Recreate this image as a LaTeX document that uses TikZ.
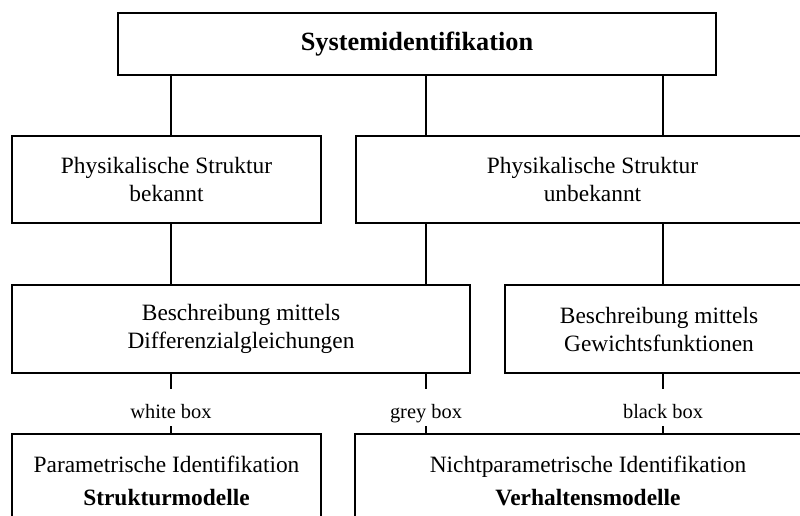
\documentclass[tikz,border=0pt]{standalone}
\usepackage{fontspec}
\setmainfont{Liberation Serif}
\newcommand\mybodyfont{\fontsize{23.4}{28}\selectfont}
\newcommand\mylabfont{\fontsize{20.4}{24}\selectfont}
\newcommand\mytitlefont{\fontsize{26.3}{30}\selectfont\bfseries}
\tikzset{
  box/.style={draw, line width=1.8pt, inner sep=0pt, align=center, font=\mybodyfont},
  conn/.style={line width=2.8pt},
  lab/.style={inner sep=0pt, minimum height=37pt, text height=25pt, text depth=4pt, font=\mylabfont},
}
\begin{document}
\begin{tikzpicture}[x=1pt,y=-1pt]
\useasboundingbox (0,0) rectangle (800,516);
\clip (0,0) rectangle (800,516);
\fill[white] (0,0) rectangle (800,516);
% boxes
\node[box, minimum width=598pt, minimum height=62pt, font=\mytitlefont] (top) at (417,44) {Systemidentifikation};
\node[box, minimum width=309pt, minimum height=87pt] (b2) at (166.5,179.5) {Physikalische Struktur\\bekannt};
\node[box, minimum width=473pt, minimum height=87pt] (b3) at (592.5,179.5) {Physikalische Struktur\\unbekannt};
\node[box, minimum width=458pt, minimum height=88pt] (b4) at (241,329) {Beschreibung mittels\\Differenzialgleichungen};
\node[box, minimum width=308pt, minimum height=88pt] (b5) at (659,329) {Beschreibung mittels\\Gewichtsfunktionen};
\node[box, minimum width=309pt, minimum height=94pt] (b6) at (166.5,481) {Parametrische Identifikation\\[5pt]\textbf{Strukturmodelle}};
\node[box, minimum width=466pt, minimum height=94pt] (b7) at (588,481) {Nichtparametrische Identifikation\\[5pt]\textbf{Verhaltensmodelle}};
% connector x positions
\coordinate (xa) at (171,0);
\coordinate (xb) at (426,0);
\coordinate (xc) at (663,0);
\draw[conn] (top.south -| xa) -- (b2.north -| xa);
\draw[conn] (top.south -| xb) -- (b3.north -| xb);
\draw[conn] (top.south -| xc) -- (b3.north -| xc);
\draw[conn] (b2.south -| xa) -- (b4.north -| xa);
\draw[conn] (b3.south -| xb) -- (b4.north -| xb);
\draw[conn] (b3.south -| xc) -- (b5.north -| xc);
% labels
\node[lab] (la) at (171,407.5) {white box};
\node[lab] (lb) at (426,407.5) {grey box};
\node[lab] (lc) at (663,407.5) {black box};
\draw[conn] (b4.south -| xa) -- (la.north);
\draw[conn] (la.south) -- (b6.north -| xa);
\draw[conn] (b4.south -| xb) -- (lb.north);
\draw[conn] (lb.south) -- (b7.north -| xb);
\draw[conn] (b5.south -| xc) -- (lc.north);
\draw[conn] (lc.south) -- (b7.north -| xc);
\end{tikzpicture}
\end{document}
